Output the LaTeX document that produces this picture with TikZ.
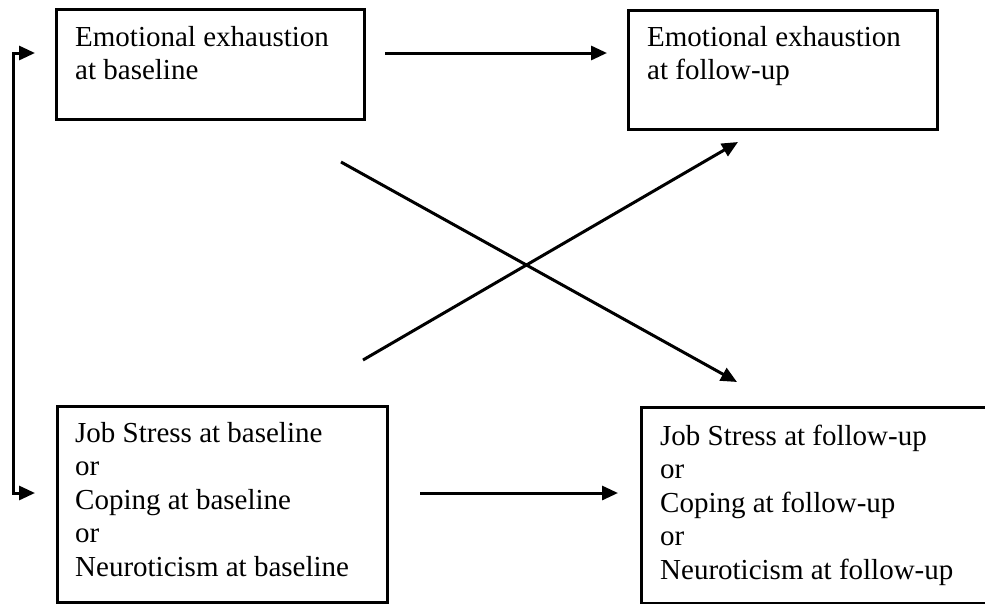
\documentclass[tikz,border=0pt]{standalone}
\usepackage{fontspec}
\setmainfont{Liberation Serif}
\usetikzlibrary{arrows.meta}
\begin{document}
\begin{tikzpicture}[x=1pt,y=-1pt,
  box/.style={draw=black,line width=3pt,rectangle,inner sep=0pt},
  lbl/.style={inner sep=0pt,align=left,anchor=base west,font=\fontsize{29}{33.5}\selectfont},
  conn/.style={line width=3pt,-{Triangle[length=16pt,width=14pt]}},
  link/.style={line width=3pt,{Triangle[length=16pt,width=14pt]}-{Triangle[length=16pt,width=14pt]}}]
\useasboundingbox[fill=white] (0,0) rectangle (985,603);
% boxes
\node[box,minimum width=308pt,minimum height=110pt,anchor=north west] (eeb) at (55,8) {};
\node[box,minimum width=309pt,minimum height=119pt,anchor=north west] (eef) at (627,9) {};
\node[box,minimum width=330pt,minimum height=196pt,anchor=north west] (jsb) at (56,405) {};
\node[box,minimum width=352pt,minimum height=196pt,anchor=north west] (jsf) at (640,406) {};
% texts (anchored at the baseline of their last line)
\node[lbl] (teeb) at (75,79.5) {Emotional exhaustion\\at baseline};
\node[lbl] (teef) at (647,79.5) {Emotional exhaustion\\at follow-up};
\node[lbl] (tjsb) at (75,576) {Job Stress at baseline\\or\\Coping at baseline\\or\\Neuroticism at baseline};
\node[lbl] (tjsf) at (660,579) {Job Stress at follow-up\\or\\Coping at follow-up\\or\\Neuroticism at follow-up};
% connector end points
\coordinate (a1) at (385,53);
\coordinate (a2) at (607,53);
\coordinate (b1) at (420,493);
\coordinate (b2) at (618,493);
\coordinate (c1) at (341,162);
\coordinate (c2) at (737,382);
\coordinate (d1) at (363,360);
\coordinate (d2) at (738,142);
\coordinate (l1) at (35,53);
\coordinate (l2) at (13,53);
\coordinate (l3) at (13,493);
\coordinate (l4) at (35,493);
% connectors
\draw[conn] (a1) -- (a2);
\draw[conn] (b1) -- (b2);
\draw[conn] (c1) -- (c2);
\draw[conn] (d1) -- (d2);
\draw[link] (l1) -- (l2) -- (l3) -- (l4);
\end{tikzpicture}
\end{document}
